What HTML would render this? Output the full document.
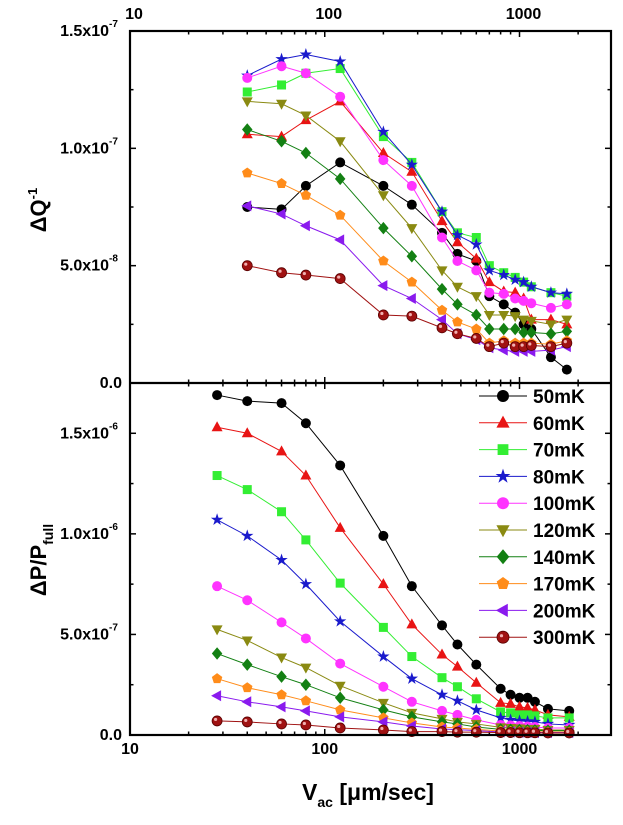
<!DOCTYPE html>
<html><head><meta charset="utf-8"><style>
html,body{margin:0;padding:0;background:#fff;}
svg{display:block;font-family:"Liberation Sans",Arial,sans-serif;font-weight:bold;}
</style></head><body>
<svg id="chart" width="623" height="825" viewBox="0 0 623 825"></svg>
<script>
const seriesNames=["50mK","60mK","70mK","80mK","100mK","120mK","140mK","170mK","200mK","300mK"];
const seriesColors=["#000000","#e81414","#33ee33","#1a1acc","#ff33ff","#8a8a12","#138013","#ff8c1a","#8a1aee","#a01212"];
const seriesShapes=["circle","tri-up","square","star","hex","tri-down","diamond","pentagon","tri-left","sphere"];
const topX=[40,60,80,120,200,280,400,480,600,700,830,950,1050,1150,1450,1750];
const topQ50=[7.5,7.4,8.4,9.4,8.4,7.6,6.4,5.5,5.2,3.7,3.35,3.0,2.5,2.3,1.1,0.57];
const topQ60=[10.6,10.5,11.2,12.0,9.8,9.0,6.9,6.0,5.3,4.3,3.9,3.85,3.6,2.7,2.7,2.5];
const topQ70=[12.4,12.7,13.2,13.4,10.5,9.4,7.3,6.4,6.2,5.0,4.7,4.5,4.3,4.1,3.85,3.7];
const topQ80=[13.1,13.8,14.0,13.7,10.7,9.3,7.3,6.3,5.9,4.8,4.6,4.4,4.3,4.1,3.85,3.8];
const topQ100=[13.0,13.5,13.2,12.2,9.5,8.4,6.2,5.2,4.8,3.85,3.8,3.6,3.5,3.4,3.2,3.35];
const topQ120=[12.0,11.9,11.4,10.3,8.0,6.6,4.8,4.1,3.7,2.9,2.9,2.85,2.7,2.65,2.5,2.7];
const topQ140=[10.8,10.3,9.8,8.7,6.6,5.4,4.0,3.35,2.9,2.3,2.3,2.3,2.15,2.15,2.1,2.2];
const topQ170=[8.95,8.5,8.0,7.15,5.2,4.3,3.1,2.6,2.3,1.7,1.8,1.7,1.7,1.7,1.65,1.8];
const topQ200=[7.55,7.2,6.7,6.1,4.15,3.6,2.7,2.1,1.85,1.5,1.4,1.35,1.35,1.35,1.4,1.55];
const topQ300=[5.0,4.7,4.6,4.45,2.9,2.85,2.35,2.1,1.9,1.55,1.7,1.55,1.55,1.6,1.55,1.7];
const botX=[28,40,60,80,120,200,280,400,480,600,800,900,1000,1100,1200,1400,1800];
const botP50=[16.9,16.6,16.5,15.5,13.4,9.9,7.4,5.45,4.5,3.5,2.3,2.0,1.85,1.85,1.65,1.3,1.2];
const botP60=[15.3,15.0,14.1,12.9,10.3,7.5,5.5,4.0,3.4,2.6,1.6,1.55,1.4,1.35,1.25,1.0,0.9];
const botP70=[12.9,12.2,11.1,9.7,7.55,5.35,3.9,2.85,2.4,1.8,1.15,1.1,1.0,1.0,0.95,0.85,0.85];
const botP80=[10.7,9.9,8.7,7.5,5.65,3.9,2.8,2.0,1.7,1.25,0.85,0.75,0.7,0.68,0.65,0.55,0.5];
const botP100=[7.4,6.7,5.6,4.8,3.55,2.4,1.65,1.2,1.0,0.75,0.5,0.47,0.45,0.42,0.4,0.35,0.35];
const botP120=[5.25,4.7,3.85,3.35,2.45,1.6,1.1,0.8,0.65,0.55,0.38,0.35,0.33,0.3,0.3,0.25,0.25];
const botP140=[4.05,3.5,2.9,2.5,1.85,1.25,0.9,0.65,0.55,0.4,0.28,0.26,0.25,0.24,0.23,0.22,0.22];
const botP170=[2.8,2.35,2.0,1.7,1.25,0.85,0.6,0.4,0.35,0.28,0.2,0.18,0.17,0.17,0.16,0.15,0.15];
const botP200=[1.95,1.65,1.4,1.2,0.9,0.65,0.45,0.3,0.27,0.22,0.15,0.14,0.13,0.13,0.12,0.12,0.12];
const botP300=[0.7,0.65,0.55,0.5,0.35,0.25,0.17,0.17,0.14,0.14,0.12,0.12,0.11,0.11,0.11,0.1,0.1];
const topSeries=[topQ50,topQ60,topQ70,topQ80,topQ100,topQ120,topQ140,topQ170,topQ200,topQ300];
const botSeries=[botP50,botP60,botP70,botP80,botP100,botP120,botP140,botP170,botP200,botP300];
const xTickLabels=["10","100","1000"];
const topYTicks=[0,5,10,15];
const topYLabels=["0.0","5.0x10","1.0x10","1.5x10"];
const topYExp=["","-8","-7","-7"];
const botYTicks=[0,5,10,15];
const botYLabels=["0.0","5.0x10","1.0x10","1.5x10"];
const botYExp=["","-7","-6","-6"];

const NS="http://www.w3.org/2000/svg";
const svg=document.getElementById("chart");
const L=130,R=611,TT=31,TB=383,BT=383,BB=735;
const xmin=1,xmax=Math.log10(2950);
function xs(v){return L+(Math.log10(v)-xmin)/(xmax-xmin)*(R-L);}
function yTop(v){return TB-v/15*(TB-TT);}
function yBot(v){return BB-v/17.5*(BB-BT);}
function el(tag,attrs,parent){const e=document.createElementNS(NS,tag);for(const k in attrs)e.setAttribute(k,attrs[k]);(parent||svg).appendChild(e);return e;}

function marker(shape,color,x,y,r,g){
  let e;
  if(shape==="circle"||shape==="hex"){e=el("circle",{cx:x,cy:y,r:r,fill:color},g);}
  else if(shape==="sphere"){e=el("circle",{cx:x,cy:y,r:r,fill:color,stroke:"#5a0000","stroke-width":0.8},g);el("circle",{cx:x-1.5,cy:y-1.5,r:1.6,fill:"#f0b0b0"},g);}
  else if(shape==="square"){e=el("rect",{x:x-r*0.9,y:y-r*0.9,width:r*1.8,height:r*1.8,fill:color},g);}
  else {
    let pts=[];
    if(shape==="tri-up")pts=[[0,-1.2],[1.1,0.8],[-1.1,0.8]];
    if(shape==="tri-down")pts=[[0,1.2],[1.1,-0.8],[-1.1,-0.8]];
    if(shape==="tri-left")pts=[[-1.2,0],[0.8,-1.1],[0.8,1.1]];
    if(shape==="diamond")pts=[[0,-1.25],[1.05,0],[0,1.25],[-1.05,0]];
    if(shape==="pentagon"){for(let i=0;i<5;i++){const a=-Math.PI/2+i*2*Math.PI/5;pts.push([1.1*Math.cos(a),1.1*Math.sin(a)]);}}
    if(shape==="star"){for(let i=0;i<10;i++){const a=-Math.PI/2+i*Math.PI/5;const rr=i%2?0.5:1.3;pts.push([rr*Math.cos(a),rr*Math.sin(a)]);}}
    e=el("polygon",{points:pts.map(p=>(x+p[0]*r)+","+(y+p[1]*r)).join(" "),fill:color},g);
  }
  return e;
}

function drawPanel(xsData,seriesArr,yf,ytop,ybot,yTicks,yLabels,yExp,panelName,minorStep,maxV){
  const g=el("g",{});
  
  
  for(let v=0;v<=maxV+0.001;v+=minorStep){
    const y=yf(v);const major=Math.abs(v/5-Math.round(v/5))<1e-6;
    const len=major?6:3.5;
    el("line",{x1:L,x2:L+len,y1:y,y2:y,stroke:"#000","stroke-width":1.5},g);
    el("line",{x1:R,x2:R-len,y1:y,y2:y,stroke:"#000","stroke-width":1.5},g);
  }
  yTicks.forEach((v,i)=>{
    const t=el("text",{x:yExp[i]?109:122,y:yf(v)+5,"text-anchor":"end","font-size":16},g);
    t.textContent=yLabels[i];
    
    
    if(yExp[i]){const s=el("text",{x:109,y:yf(v)-4,"font-size":10},g);s.textContent=yExp[i];}
  });
  for(let d=10;d<=1000;d*=10){for(let m=1;m<10;m++){const v=d*m;if(v>2950)break;const x=xs(v);const len=m===1?6:3.5;
    el("line",{x1:x,x2:x,y1:ybot,y2:ybot-len,stroke:"#000","stroke-width":1.5},g);
    el("line",{x1:x,x2:x,y1:ytop,y2:ytop+len,stroke:"#000","stroke-width":1.5},g);}}
  seriesArr.forEach((vals,si)=>{
    const sg=el("g",{},g);
    
    
    const pts=vals.map((v,i)=>xs(xsData[i])+","+yf(v)).join(" ");
    el("polyline",{points:pts,fill:"none",stroke:seriesColors[si],"stroke-width":1},sg);
    vals.forEach((v,i)=>{const m=marker(seriesShapes[si],seriesColors[si],xs(xsData[i]),yf(v),5,sg);
      
      });
  });
  return g;
}
drawPanel(topX,topSeries,yTop,TT,TB,topYTicks,topYLabels,topYExp,"top-panel-dq",2.5,15);
drawPanel(botX,botSeries,yBot,BT,BB,botYTicks,botYLabels,botYExp,"bottom-panel-dp",2.5,17.5);
el("rect",{x:L,y:TT,width:R-L,height:BB-TT,fill:"none",stroke:"#000","stroke-width":2.2});
el("line",{x1:L,x2:R,y1:TB,y2:TB,stroke:"#000","stroke-width":2.2});
xTickLabels.forEach(s=>{const v=+s;
  const t1=el("text",{x:xs(v),y:754,"text-anchor":"middle","font-size":16});t1.textContent=s;
  
  const t2=el("text",{x:xs(v)+4,y:19,"text-anchor":"middle","font-size":16});t2.textContent=s;
  
});
let t=el("text",{x:0,y:0,transform:"translate(46,210) rotate(-90)","text-anchor":"middle","font-size":22});
t.innerHTML='ΔQ<tspan font-size="13" dy="-9">-1</tspan>';

t=el("text",{x:0,y:0,transform:"translate(46,560) rotate(-90)","text-anchor":"middle","font-size":22});
t.innerHTML='ΔP/P<tspan font-size="14" dy="7">full</tspan>';

t=el("text",{x:368,y:800,"text-anchor":"middle","font-size":23});
t.innerHTML='V<tspan font-size="14" dy="7">ac</tspan><tspan dy="-7"> [μm/sec]</tspan>';

const lg=el("g",{});

seriesNames.forEach((n,i)=>{
  const y=396+i*26.8;
  const e=el("g",{},lg);
  
  el("line",{x1:479,x2:527,y1:y,y2:y,stroke:seriesColors[i],"stroke-width":1},e);
  marker(seriesShapes[i],seriesColors[i],503,y,6,e);
  const tx=el("text",{x:533,y:y+7,"font-size":19},e);tx.textContent=n;
});
</script>
</body></html>
